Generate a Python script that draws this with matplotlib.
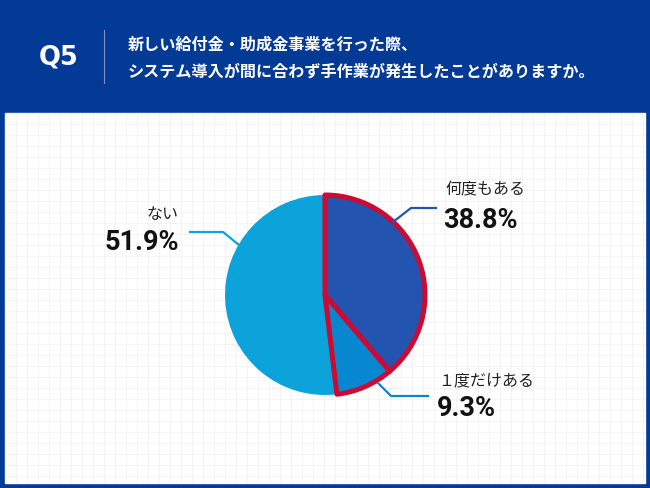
import matplotlib.pyplot as plt
from matplotlib.patches import Rectangle
import numpy as np

plt.rcParams['font.family'] = ['Noto Sans CJK JP', 'DejaVu Sans']

# データ
labels = ['何度もある', '１度だけある', 'ない']
values = [38.8, 9.3, 51.9]
pct_text = ['38.8%', '9.3%', '51.9%']
colors = ['#2254b0', '#0787cf', '#0ca2da']
red = '#cc0a32'
navy = '#033a95'
question = 'Q5'
title_lines = ['新しい給付金・助成金事業を行った際、',
               'システム導入が間に合わず手作業が発生したことがありますか。']

W, H = 650, 488
fig = plt.figure(figsize=(6.5, 4.88), dpi=100)
ax = fig.add_axes([0, 0, 1, 1])

def Y(y):
    # coordenada de imagen -> coordenada del eje
    return H - y

# fondo azul y panel blanco
ax.add_patch(Rectangle((0, 0), W, H, color=navy, zorder=0))
ax.add_patch(Rectangle((5, Y(483)), 640, 370, color='white', zorder=1))
for gx in np.arange(5, 645, 11):
    ax.plot([gx, gx], [Y(483), Y(113)], color='#f0f0f4', lw=0.5, zorder=1.5)
for gy in np.arange(113, 483, 11):
    ax.plot([5, 645], [Y(gy), Y(gy)], color='#f0f0f4', lw=0.5, zorder=1.5)

# cabecera
ax.text(59, Y(57), question, color='white', fontsize=18.5, fontweight='bold',
        ha='center', va='center', family=['DejaVu Sans'])
ax.plot([104, 104], [Y(30), Y(83)], color='#7f93c4', lw=0.8)
ax.text(128, Y(45), title_lines[0], color='white', fontsize=11.6,
        fontweight='bold', ha='left', va='center')
ax.text(128, Y(72), title_lines[1], color='white', fontsize=11.6,
        fontweight='bold', ha='left', va='center')

# gráfico circular
cx, cy, r = 325, Y(295), 100
wedges, _ = ax.pie(values, colors=colors, startangle=90, counterclock=False,
                   center=(cx, cy), radius=r, frame=True)
ax.set_xlim(0, W)
ax.set_ylim(0, H)
ax.set_aspect('equal')
ax.axis('off')
for i, w in enumerate(wedges):
    if i < 2:
        w.set_edgecolor(red)
        w.set_linewidth(3.6)
        w.set_joinstyle('round')
        w.set_zorder(4)
    else:
        w.set_zorder(3)

# líneas guía y etiquetas
ax.plot([393, 411, 436], [Y(222), Y(208), Y(208)], color=colors[0], lw=1.6, zorder=5)
ax.plot([378, 391, 428], [Y(383), Y(396), Y(396)], color=colors[1], lw=1.6, zorder=5)
ax.plot([239, 223, 190], [Y(245), Y(232), Y(232)], color=colors[2], lw=1.6, zorder=5)

ax.text(445, Y(190), labels[0], fontsize=11.5, ha='left', va='center', color='#222222')
ax.text(443, Y(220), pct_text[0], fontsize=19.5, fontweight='bold', ha='left',
        va='center', color='#111111', family=['Roboto', 'DejaVu Sans'])
ax.text(438, Y(381), labels[1], fontsize=11.5, ha='left', va='center', color='#222222')
ax.text(437, Y(408), pct_text[1], fontsize=19.5, fontweight='bold', ha='left',
        va='center', color='#111111', family=['Roboto', 'DejaVu Sans'])
ax.text(178, Y(215), labels[2], fontsize=11.5, ha='right', va='center', color='#222222')
ax.text(179, Y(243), pct_text[2], fontsize=19.5, fontweight='bold', ha='right',
        va='center', color='#111111', family=['Roboto', 'DejaVu Sans'])

fig.savefig('out.png', dpi=100)
